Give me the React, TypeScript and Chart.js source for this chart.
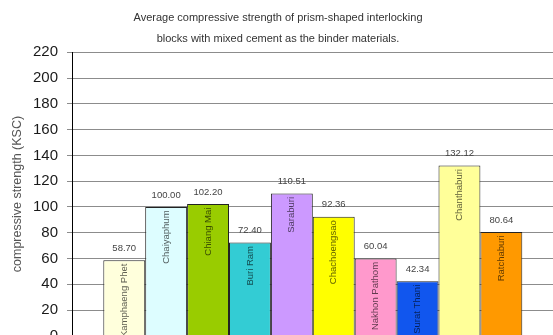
import React, { useEffect, useRef } from 'react';
import { Chart, registerables } from 'chart.js';

Chart.register(...registerables);

// Sample provinces and their average compressive strength (KSC)
const provinces = [
  'Kamphaeng Phet',
  'Chaiyaphum',
  'Chiang Mai',
  'Buri Ram',
  'Saraburi',
  'Chachoengsao',
  'Nakhon Pathom',
  'Surat Thani',
  'Chanthaburi',
  'Ratchaburi',
];
const strengths = [58.7, 100.0, 102.2, 72.4, 110.51, 92.36, 60.04, 42.34, 132.12, 80.64];
const fillColors = [
  '#FFFFDC',
  '#DDFDFF',
  '#99CC00',
  '#33CCD4',
  '#CC99FF',
  '#FFFF00',
  '#FF99CC',
  '#1156EE',
  '#FFFF99',
  '#FF9900',
];
const yMin = 0;
const yMax = 220;
const yStep = 20;
const titleLines = [
  'Average compressive strength of prism-shaped interlocking',
  'blocks with mixed cement as the binder materials.',
];
const yAxisTitle = 'compressive strength (KSC)';

const W = 600;
const H = 380;
const FONT = '"Liberation Sans", Arial, Helvetica, sans-serif';

function shade(hex: string, k: number): string {
  const n = parseInt(hex.slice(1), 16);
  const r = Math.round(((n >> 16) & 255) * k);
  const g = Math.round(((n >> 8) & 255) * k);
  const b = Math.round((n & 255) * k);
  return `rgb(${r},${g},${b})`;
}

const annotationPlugin = {
  id: 'strengthAnnotations',
  afterDatasetsDraw(chart: any) {
    const ctx: CanvasRenderingContext2D = chart.ctx;
    const area = chart.chartArea;
    ctx.save();

    // two-line heading
    ctx.fillStyle = '#333';
    ctx.font = `11px ${FONT}`;
    ctx.textAlign = 'center';
    ctx.textBaseline = 'alphabetic';
    ctx.fillText(titleLines[0], 278, 20.5);
    ctx.fillText(titleLines[1], 278, 41.5);

    // vertical axis title
    ctx.save();
    ctx.translate(18, (area.top + area.bottom) / 2);
    ctx.rotate(-Math.PI / 2);
    ctx.fillStyle = '#555';
    ctx.font = `12.5px ${FONT}`;
    ctx.textBaseline = 'middle';
    ctx.fillText(yAxisTitle, 0, 0);
    ctx.restore();

    // value above each bar, province name inside it
    chart.data.datasets.forEach((_ds: any, i: number) => {
      const bar = chart.getDatasetMeta(i).data[0];
      if (!bar) return;
      const x = bar.x;
      const y = bar.y;

      ctx.fillStyle = '#444';
      ctx.font = `9.5px ${FONT}`;
      ctx.textAlign = 'center';
      ctx.textBaseline = 'middle';
      ctx.fillText(strengths[i].toFixed(2), x, y - 12);

      ctx.save();
      ctx.translate(x, y + 3.5);
      ctx.rotate(-Math.PI / 2);
      ctx.textAlign = 'right';
      ctx.textBaseline = 'middle';
      ctx.font = `9.5px ${FONT}`;
      ctx.fillStyle = shade(fillColors[i], 0.38);
      ctx.fillText(provinces[i], 0, 0);
      ctx.restore();
    });

    ctx.restore();
  },
};

export default function App() {
  const canvasRef = useRef<HTMLCanvasElement | null>(null);

  useEffect(() => {
    document.body.style.overflow = 'hidden';
    const canvas = canvasRef.current;
    if (!canvas) return;

    const chart = new Chart(canvas, {
      type: 'bar',
      data: {
        labels: [''],
        datasets: provinces.map((name, i) => ({
          label: name,
          data: [strengths[i]],
          backgroundColor: fillColors[i],
          borderColor: '#222',
          borderWidth: 1,
          categoryPercentage: 0.87,
          barPercentage: 1,
        })),
      },
      options: {
        responsive: false,
        animation: false,
        devicePixelRatio: 1,
        layout: {
          padding: { top: 52.3, right: W - 553.6, bottom: H - 335.8, left: 0 },
        },
        plugins: {
          legend: { display: false },
          tooltip: { enabled: false },
          title: { display: false },
        },
        scales: {
          x: {
            type: 'category',
            display: false,
          },
          y: {
            min: yMin,
            max: yMax,
            afterFit: (scale: any) => {
              scale.width = 72;
            },
            ticks: {
              stepSize: yStep,
              padding: 9,
              color: '#1a1a1a',
              font: { family: FONT, size: 15 },
            },
            grid: {
              color: '#8c8c8c',
              tickColor: '#8c8c8c',
              tickLength: 5,
              lineWidth: 1,
            },
            border: { display: true, color: '#000', width: 1 },
          },
        },
      },
      plugins: [annotationPlugin],
    });

    return () => chart.destroy();
  }, []);

  return (
    <div
      style={{
        position: 'fixed',
        left: 0,
        top: 0,
        width: 553,
        height: 335,
        overflow: 'hidden',
        background: '#fff',
      }}
    >
      <canvas ref={canvasRef} width={W} height={H} style={{ width: W, height: H, display: 'block' }} />
    </div>
  );
}
